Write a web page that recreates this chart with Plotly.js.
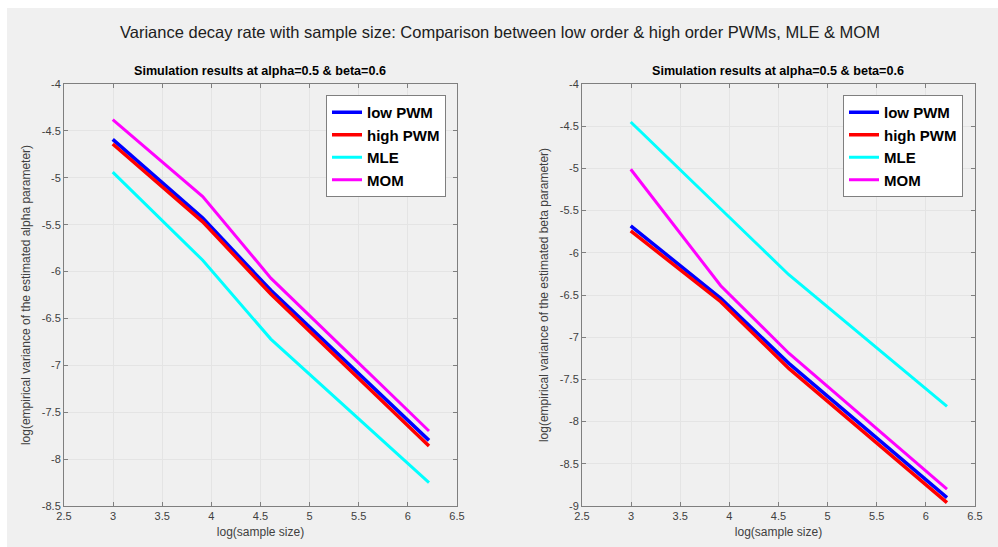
<!DOCTYPE html>
<html>
<head>
<meta charset="utf-8">
<script src="https://cdn.plot.ly/plotly-3.0.1.min.js"></script>
<style>html,body{margin:0;padding:0;background:#fff;}#chart{width:998px;height:547px;}</style>
</head>
<body>
<div id="chart"></div>
<script>
// log(sample size) for n = 20, 50, 100, 500
const logN = [2.996, 3.912, 4.605, 6.215];
const seriesNames = ["low PWM", "high PWM", "MLE", "MOM"];
const seriesColors = ["#0000ff", "#ff0000", "#00ffff", "#ff00ff"];
const seriesWidths = [3.5, 3.5, 3, 3];

// alpha parameter (left panel)
const alphaLowPWM  = [-4.59, -5.43, -6.20, -7.80];
const alphaHighPWM = [-4.64, -5.47, -6.24, -7.86];
const alphaMLE     = [-4.94, -5.88, -6.72, -8.25];
const alphaMOM     = [-4.38, -5.20, -6.07, -7.70];

// beta parameter (right panel)
const betaLowPWM  = [-5.68, -6.54, -7.31, -8.90];
const betaHighPWM = [-5.74, -6.58, -7.37, -8.96];
const betaMLE     = [-4.45, -5.48, -6.26, -7.82];
const betaMOM     = [-5.01, -6.39, -7.19, -8.80];

const mainTitle = "Variance decay rate with sample size: Comparison between low order & high order PWMs, MLE & MOM";
const subTitle = "Simulation results at alpha=0.5 & beta=0.6";
const xTitle = "log(sample size)";
const yTitleLeft = "log(empirical variance of the estimated alpha parameter)";
const yTitleRight = "log(empirical variance of the estimated beta parameter)";

const xTicks = [2.5, 3, 3.5, 4, 4.5, 5, 5.5, 6, 6.5];
const yTicksLeft = [-8.5, -8, -7.5, -7, -6.5, -6, -5.5, -5, -4.5, -4];
const yTicksRight = [-9, -8.5, -8, -7.5, -7, -6.5, -6, -5.5, -5, -4.5, -4];

const leftData = [alphaLowPWM, alphaHighPWM, alphaMLE, alphaMOM];
const rightData = [betaLowPWM, betaHighPWM, betaMLE, betaMOM];

const traces = [];
leftData.forEach((ys, i) => traces.push({
  x: logN, y: ys, type: "scatter", mode: "lines", name: seriesNames[i],
  line: {color: seriesColors[i], width: seriesWidths[i]},
  xaxis: "x", yaxis: "y", legend: "legend"
}));
rightData.forEach((ys, i) => traces.push({
  x: logN, y: ys, type: "scatter", mode: "lines", name: seriesNames[i],
  line: {color: seriesColors[i], width: seriesWidths[i]},
  xaxis: "x2", yaxis: "y2", legend: "legend2"
}));

const W = 998, H = 547;
const FONT = "Liberation Sans, Arial, Helvetica, sans-serif";
const tickFont = {family: FONT, size: 11, color: "#404040"};
const titleFont = {family: FONT, size: 12, color: "#404040"};
function axisCommon(extra) {
  return Object.assign({
    showgrid: true, gridcolor: "#e4e4e4", gridwidth: 1,
    showline: true, linecolor: "#7f7f7f", linewidth: 1, mirror: "ticks",
    ticks: "inside", ticklen: 4, tickcolor: "#7f7f7f", tickwidth: 1,
    zeroline: false, tickfont: tickFont, fixedrange: true
  }, extra);
}
const yDom = [1 - 506 / H, 1 - 84 / H];

const legendCommon = {
  bgcolor: "#ffffff", bordercolor: "#7f7f7f", borderwidth: 1,
  font: {family: FONT, size: 15, color: "#000000", weight: "bold"},
  yanchor: "top", xanchor: "right", xref: "paper", yref: "paper",
  tracegroupgap: 0, itemwidth: 30
};

const layout = {
  width: W, height: H,
  margin: {l: 0, r: 0, t: 0, b: 0},
  paper_bgcolor: "#ffffff",
  plot_bgcolor: "#ffffff",
  showlegend: true,
  shapes: [{
    type: "rect", xref: "paper", yref: "paper", layer: "below",
    x0: 7 / W, x1: 1, y0: 0, y1: 1 - 8 / H,
    fillcolor: "#f0f0f0", line: {width: 0}
  }],
  xaxis: axisCommon({domain: [64 / W, 457 / W], range: [2.5, 6.5], tickvals: xTicks, ticktext: xTicks.map(String),
    title: {text: xTitle, font: titleFont, standoff: 6}, anchor: "y"}),
  yaxis: axisCommon({domain: yDom, range: [-8.5, -4], tickvals: yTicksLeft, ticktext: yTicksLeft.map(String),
    title: {text: yTitleLeft, font: titleFont, standoff: 8}, anchor: "x"}),
  xaxis2: axisCommon({domain: [582 / W, 975 / W], range: [2.5, 6.5], tickvals: xTicks, ticktext: xTicks.map(String),
    title: {text: xTitle, font: titleFont, standoff: 6}, anchor: "y2"}),
  yaxis2: axisCommon({domain: yDom, range: [-9, -4], tickvals: yTicksRight, ticktext: yTicksRight.map(String),
    title: {text: yTitleRight, font: titleFont, standoff: 8}, anchor: "x2"}),
  legend: Object.assign({}, legendCommon, {x: 446 / W, y: 1 - 95 / H}),
  legend2: Object.assign({}, legendCommon, {x: 963 / W, y: 1 - 95 / H}),
  annotations: [
    {text: mainTitle, xref: "paper", yref: "paper", x: 500 / W, y: 1 - 32 / H, showarrow: false,
      xanchor: "center", yanchor: "middle",
      font: {family: FONT, size: 16.5, color: "#202020"}},
    {text: "<b>" + subTitle + "</b>", xref: "paper", yref: "paper", x: 260 / W, y: 1 - 71 / H, showarrow: false,
      xanchor: "center", yanchor: "middle",
      font: {family: FONT, size: 12.6, color: "#000000"}},
    {text: "<b>" + subTitle + "</b>", xref: "paper", yref: "paper", x: 778 / W, y: 1 - 71 / H, showarrow: false,
      xanchor: "center", yanchor: "middle",
      font: {family: FONT, size: 12.6, color: "#000000"}}
  ]
};

Plotly.newPlot("chart", traces, layout, {displayModeBar: false, staticPlot: true});
</script>
</body>
</html>
